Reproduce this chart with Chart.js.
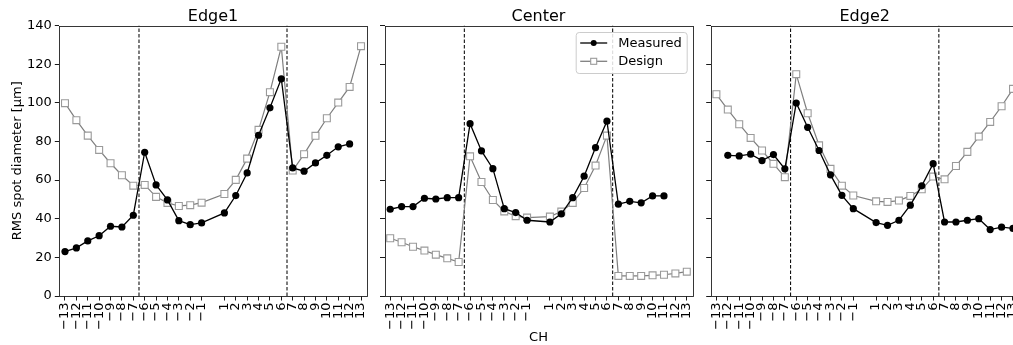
<!DOCTYPE html>
<html>
<head>
<meta charset="utf-8">
<script src="https://cdn.jsdelivr.net/npm/chart.js@4.4.1/dist/chart.umd.min.js"></script>
<style>
  html, body { margin: 0; padding: 0; background: #fff; overflow: hidden; width: 1013px; height: 345px; }
  #wrap { position: relative; width: 1013px; height: 345px; overflow: hidden; }
  canvas { position: absolute; top: 0; }
</style>
</head>
<body>
<div id="wrap">
  <canvas id="edge1" width="375" height="345" style="left:0px"></canvas>
  <canvas id="center" width="325" height="345" style="left:375px"></canvas>
  <canvas id="edge2" width="330" height="345" style="left:700px"></canvas>
</div>
<script>
// Channel numbers (no channel 0) and their tick labels
const channels = [-13, -12, -11, -10, -9, -8, -7, -6, -5, -4, -3, -2, -1,
                  1, 2, 3, 4, 5, 6, 7, 8, 9, 10, 11, 12, 13];
const tickLabels = ['\u221213', '\u221212', '\u221211', '\u221210', '\u22129', '\u22128', '\u22127',
                    '\u22126', '\u22125', '\u22124', '\u22123', '\u22122', '\u22121',
                    '1', '2', '3', '4', '5', '6', '7', '8', '9', '10', '11', '12', '13'];

// Block boundaries between channel groups
const dividers = [-6.5, 6.5];

// RMS spot diameter [µm] per channel
const edge1Measured = [23.0, 24.9, 28.5, 31.2, 36.1, 35.7, 41.8, 74.4, 57.5, 49.7, 39.0, 36.9, 37.8,
                       43.0, 52.0, 63.7, 83.2, 97.4, 112.4, 66.3, 64.6, 68.9, 72.8, 77.2, 78.7, null];
const edge1Design   = [99.8, 91.0, 83.0, 75.6, 68.7, 62.5, 57.1, 57.5, 51.3, 48.2, 46.6, 47.0, 48.3,
                       52.8, 60.1, 71.1, 86.0, 105.5, 129.0, 64.9, 73.4, 82.9, 92.0, 100.1, 108.2, 129.3];
const centerMeasured = [44.9, 46.3, 46.3, 50.6, 50.2, 50.9, 50.9, 89.2, 75.1, 65.9, 45.2, 43.2, 39.2,
                        38.3, 42.5, 50.9, 62.0, 76.8, 90.5, 47.5, 49.0, 48.2, 51.8, 51.8, null, null];
const centerDesign   = [29.9, 27.8, 25.5, 23.5, 21.4, 19.5, 17.6, 72.3, 59.0, 49.7, 43.8, 41.3, 40.6,
                        41.1, 43.7, 48.2, 55.9, 67.5, 83.0, 10.4, 10.4, 10.4, 10.7, 11.0, 11.7, 12.6];
const edge2Measured = [null, 72.8, 72.5, 73.4, 70.1, 73.2, 65.8, 99.9, 87.3, 75.3, 62.7, 52.1, 45.2,
                       38.0, 36.6, 39.2, 47.0, 57.0, 68.5, 38.3, 38.3, 39.2, 40.0, 34.4, 35.6, 35.0];
const edge2Design   = [104.4, 96.5, 88.9, 81.8, 75.3, 68.4, 61.5, 114.8, 94.6, 78.0, 65.8, 57.1, 52.0,
                       49.0, 48.7, 49.4, 51.8, 55.2, 61.8, 60.4, 67.3, 74.6, 82.5, 90.1, 98.2, 107.2];

const yMin = 0, yMax = 140, yStep = 20;
const seriesNames = ['Measured', 'Design'];

const FONT = "'DejaVu Sans', 'Liberation Sans', sans-serif";
Chart.defaults.font.family = FONT;
Chart.defaults.color = '#000';

const MEAS_COLOR = '#000000';
const DES_LINE = '#7f7f7f';
const DES_EDGE = '#9a9a9a';

function toPoints(values) {
  const pts = [];
  values.forEach((v, i) => { if (v !== null) pts.push({ x: channels[i], y: v }); });
  return pts;
}

// Box around each plot area
const framePlugin = {
  id: 'frame',
  afterDraw(chart) {
    const a = chart.chartArea, ctx = chart.ctx;
    ctx.save();
    ctx.strokeStyle = '#222';
    ctx.lineWidth = 0.9;
    ctx.strokeRect(Math.round(a.left) + 0.5, Math.round(a.top) + 0.5,
                   Math.round(a.right) - Math.round(a.left), Math.round(a.bottom) - Math.round(a.top));
    ctx.restore();
  }
};

// Legend box drawn inside the plot area (upper right)
const insideLegend = {
  id: 'insideLegend',
  afterDraw(chart, args, opts) {
    if (!opts.show) return;
    const a = chart.chartArea, ctx = chart.ctx;
    const w = 111, h = 41;
    const x0 = a.right - 5.8 - w, y0 = a.top + 6.5;
    ctx.save();
    ctx.beginPath();
    if (ctx.roundRect) ctx.roundRect(x0 + 0.5, y0 + 0.5, w, h, 3); else ctx.rect(x0 + 0.5, y0 + 0.5, w, h);
    ctx.fillStyle = 'rgba(255,255,255,0.85)';
    ctx.fill();
    ctx.strokeStyle = '#cccccc';
    ctx.lineWidth = 1;
    ctx.stroke();

    const rows = [
      { label: seriesNames[0], line: MEAS_COLOR, marker: 'circle', y: y0 + 11 },
      { label: seriesNames[1], line: DES_LINE, marker: 'rect', y: y0 + 29.3 }
    ];
    rows.forEach(r => {
      const lx0 = x0 + 4.5, lx1 = x0 + 31.5, mx = (lx0 + lx1) / 2;
      ctx.beginPath();
      ctx.moveTo(lx0, r.y); ctx.lineTo(lx1, r.y);
      ctx.strokeStyle = r.line; ctx.lineWidth = 1.3; ctx.stroke();
      if (r.marker === 'circle') {
        ctx.beginPath(); ctx.arc(mx, r.y, 3, 0, Math.PI * 2);
        ctx.fillStyle = MEAS_COLOR; ctx.fill();
      } else {
        ctx.fillStyle = '#fff'; ctx.fillRect(mx - 3, r.y - 3, 6, 6);
        ctx.strokeStyle = DES_EDGE; ctx.lineWidth = 1.1; ctx.strokeRect(mx - 3, r.y - 3, 6, 6);
      }
      ctx.fillStyle = '#000';
      ctx.font = '13px ' + FONT;
      ctx.textBaseline = 'middle';
      ctx.textAlign = 'left';
      ctx.fillText(r.label, x0 + 42.5, r.y + 0.5);
    });
    ctx.restore();
  }
};

function makePanel(id, title, measured, design, cfg) {
  const datasets = [
    {
      label: seriesNames[0], data: toPoints(measured), order: 0,
      borderColor: MEAS_COLOR, borderWidth: 1.3, backgroundColor: MEAS_COLOR,
      pointStyle: 'circle', pointRadius: 3.6, pointBorderWidth: 0, pointBackgroundColor: MEAS_COLOR,
      tension: 0
    },
    {
      label: seriesNames[1], data: toPoints(design), order: 1,
      borderColor: DES_LINE, borderWidth: 1.2,
      pointStyle: 'rect', pointRadius: 4.9, pointBorderWidth: 1.1,
      pointBorderColor: DES_EDGE, pointBackgroundColor: '#ffffff',
      tension: 0
    }
  ];
  dividers.forEach(d => datasets.push({
    label: 'div', data: [{ x: d, y: yMin }, { x: d, y: yMax }], order: 5,
    borderColor: '#111', borderWidth: 1.1, borderDash: [3.5, 2], pointRadius: 0
  }));

  return new Chart(document.getElementById(id), {
    type: 'line',
    data: { datasets },
    plugins: [framePlugin, insideLegend],
    options: {
      responsive: false,
      animation: false,
      events: [],
      layout: { padding: { left: 0, right: cfg.padRight, top: 0, bottom: 0 } },
      plugins: {
        legend: { display: false },
        tooltip: { enabled: false },
        title: {
          display: true, text: title, fullSize: false, color: '#000',
          font: { size: 16, weight: 'normal', lineHeight: 1.0 }, padding: { top: 8.5, bottom: 1 }
        },
        insideLegend: { show: !!cfg.legend }
      },
      scales: {
        x: {
          type: 'linear', min: -13.5, max: 13.5,
          afterBuildTicks: s => { s.ticks = channels.map(v => ({ value: v })); },
          ticks: {
            autoSkip: false, minRotation: 90, maxRotation: 90, padding: 2,
            color: '#000', font: { size: 13 },
            callback: (v, i) => tickLabels[i]
          },
          grid: { drawOnChartArea: false, drawTicks: true, tickLength: 4.5, color: '#000', lineWidth: 0.9 },
          border: { display: false },
          title: {
            display: !!cfg.xTitle, text: cfg.xTitle || '', color: '#000',
            font: { size: 13 }, padding: { top: 0, bottom: 0 }
          },
          afterFit: s => { s.height = 49; s.paddingLeft = 0; s.paddingRight = 0; }
        },
        y: {
          type: 'linear', min: yMin, max: yMax,
          ticks: {
            stepSize: yStep, display: !!cfg.yLabels, padding: 3,
            color: '#000', font: { size: 13 }
          },
          grid: { drawOnChartArea: false, drawTicks: true, tickLength: 4.5, color: '#000', lineWidth: 0.9 },
          border: { display: false },
          title: {
            display: !!cfg.yTitle, text: cfg.yTitle || '', color: '#000',
            font: { size: 13 }, padding: { top: 10.2, bottom: 0 }
          },
          afterFit: s => { s.width = cfg.yWidth; s.paddingTop = 0; s.paddingBottom = 0; }
        }
      }
    }
  });
}

makePanel('edge1', 'Edge1', edge1Measured, edge1Design,
  { yWidth: 59.3, padRight: 8.3, yLabels: true, yTitle: 'RMS spot diameter [\u03bcm]' });
makePanel('center', 'Center', centerMeasured, centerDesign,
  { yWidth: 9.5, padRight: 7.5, xTitle: 'CH', legend: true });
makePanel('edge2', 'Edge2', edge2Measured, edge2Design,
  { yWidth: 10.7, padRight: 11.3 });
</script>
</body>
</html>
